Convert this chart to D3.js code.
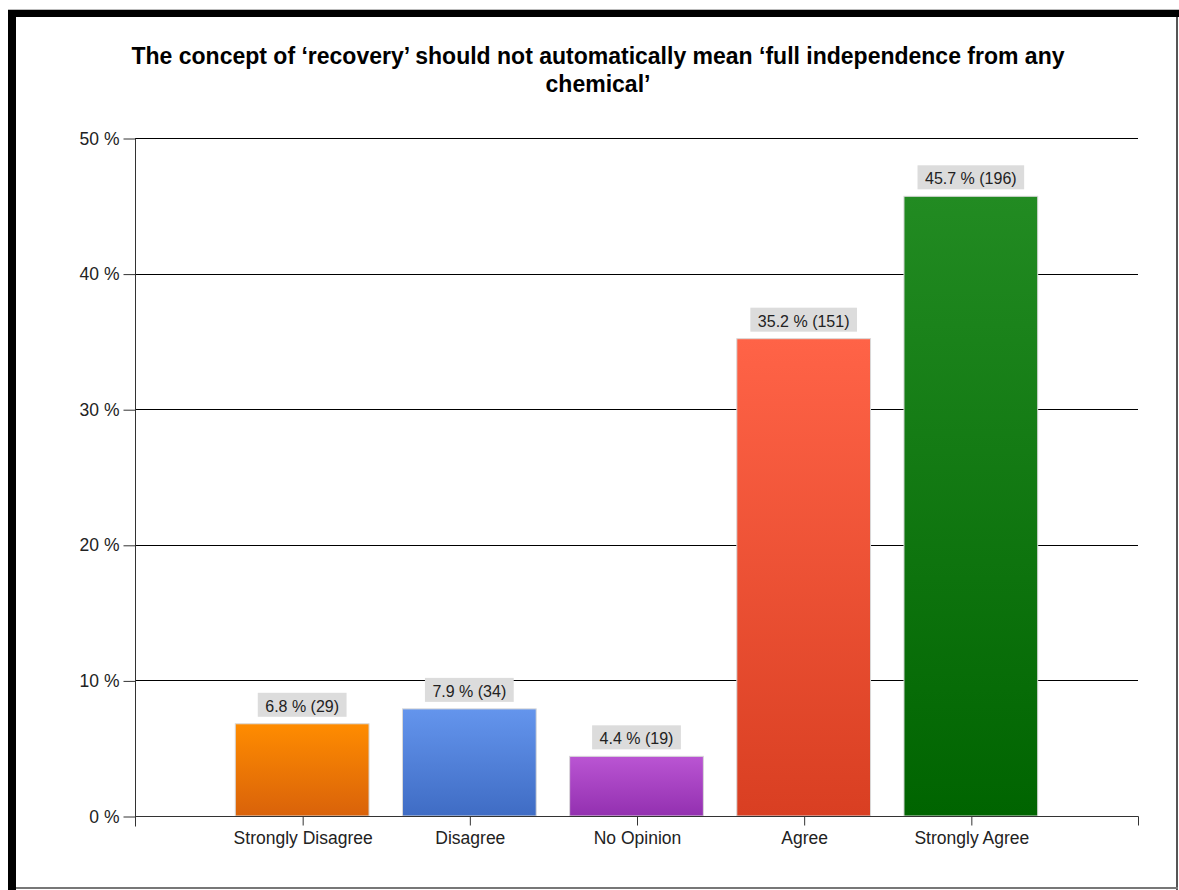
<!DOCTYPE html>
<html>
<head>
<meta charset="utf-8">
<script src="https://cdn.jsdelivr.net/npm/d3@7"></script>
<style>
  html, body { margin: 0; padding: 0; background: #fff; }
  svg { display: block; font-family: "Liberation Sans", Arial, sans-serif; }
</style>
</head>
<body>
<div id="chart"></div>
<script>
// data
const categories = ["Strongly Disagree", "Disagree", "No Opinion", "Agree", "Strongly Agree"];
const percents = [6.8, 7.9, 4.4, 35.2, 45.7];
const counts = [29, 34, 19, 151, 196];
const yTicks = [0, 10, 20, 30, 40, 50];
const titleLines = ["The concept of \u2018recovery\u2019 should not automatically mean \u2018full independence from any", "chemical\u2019"];
const topColors = ["#ff8c00", "#6495ed", "#ba55d3", "#ff6347", "#228b22"];
const bottomColors = ["#d9620a", "#3f6cc4", "#9330b0", "#d93f22", "#006400"];

const width = 1179, height = 890;
const plotLeft = 135, plotRight = 1138, plotTop = 138, plotBottom = 816;

const svg = d3.select("#chart")
    .append("svg")
    .attr("width", width)
    .attr("height", height);

// frame
svg.append("rect").attr("x", 8).attr("y", 9).attr("width", 1171).attr("height", 1).attr("fill", "#bbb");
svg.append("rect").attr("x", 8).attr("y", 10).attr("width", 1171).attr("height", 7).attr("fill", "#000");
svg.append("rect").attr("x", 8).attr("y", 10).attr("width", 8).attr("height", 880).attr("fill", "#000");
svg.append("rect").attr("x", 1176).attr("y", 17).attr("width", 2).attr("height", 873).attr("fill", "#555");
svg.append("rect").attr("x", 16).attr("y", 887).attr("width", 1162).attr("height", 2).attr("fill", "#777");

// gradients
const defs = svg.append("defs");
categories.forEach((c, i) => {
    const g = defs.append("linearGradient")
        .attr("id", "grad" + i)
        .attr("x1", 0).attr("y1", 0).attr("x2", 0).attr("y2", 1);
    g.append("stop").attr("offset", "0%").attr("stop-color", topColors[i]);
    g.append("stop").attr("offset", "100%").attr("stop-color", bottomColors[i]);
});

// title
svg.append("text")
    .attr("text-anchor", "middle")
    .attr("font-weight", "bold")
    .attr("font-size", "23px")
    .attr("fill", "#000")
    .selectAll("tspan")
    .data(titleLines)
    .enter().append("tspan")
    .attr("x", 598)
    .attr("y", (d, i) => 64 + i * 28)
    .text(d => d);

// scales
const x = d3.scalePoint()
    .domain(categories)
    .range([plotLeft, plotRight])
    .padding(1);

const y = d3.scaleLinear()
    .domain([0, 50])
    .range([plotBottom, plotTop]);

const barWidth = x.step() * 0.8;

// gridlines
svg.append("g")
    .selectAll("line")
    .data(yTicks.filter(d => d > 0))
    .enter().append("line")
    .attr("x1", plotLeft)
    .attr("x2", plotRight)
    .attr("y1", d => Math.round(y(d)) + 0.5)
    .attr("y2", d => Math.round(y(d)) + 0.5)
    .attr("stroke", "#000")
    .attr("stroke-width", 1);

// y axis
const yAxis = svg.append("g")
    .attr("transform", `translate(${plotLeft + 0.5},0.5)`)
    .call(d3.axisLeft(y).tickValues(yTicks).tickSize(12).tickPadding(4).tickFormat(d => d + " %"));
yAxis.select(".domain").attr("stroke", "#333").attr("d", `M0,${plotTop}V${plotBottom + 10}`);
yAxis.selectAll(".tick line").attr("stroke", "#333");
yAxis.selectAll(".tick text")
    .attr("font-size", "17.5px")
    .attr("fill", "#222")
    .attr("font-family", "Liberation Sans, Arial, sans-serif");

// bars
svg.append("g")
    .selectAll("rect")
    .data(categories)
    .enter().append("rect")
    .attr("x", d => x(d) - barWidth / 2)
    .attr("y", (d, i) => y(percents[i]))
    .attr("width", barWidth)
    .attr("height", (d, i) => plotBottom - y(percents[i]))
    .attr("fill", (d, i) => "url(#grad" + i + ")")
    .attr("stroke", "#d8d8d8")
    .attr("stroke-width", 1);

// x axis
const xAxis = svg.append("g")
    .attr("transform", `translate(0.5,${plotBottom + 0.5})`)
    .call(d3.axisBottom(x).tickSize(9).tickPadding(6));
xAxis.select(".domain").attr("stroke", "#333").attr("d", `M${plotLeft},0H${plotRight}V9`);
xAxis.selectAll(".tick line").attr("stroke", "#333");
xAxis.selectAll(".tick text")
    .attr("font-size", "17.5px")
    .attr("fill", "#222")
    .attr("font-family", "Liberation Sans, Arial, sans-serif");

// value labels
const labels = svg.append("g")
    .selectAll("g")
    .data(categories)
    .enter().append("g")
    .attr("transform", (d, i) => `translate(${x(d)},${y(percents[i]) - 7})`);

labels.append("text")
    .attr("text-anchor", "middle")
    .attr("y", -5)
    .attr("font-size", "16px")
    .attr("fill", "#222")
    .text((d, i) => percents[i].toFixed(1) + " % (" + counts[i] + ")");

labels.each(function() {
    const t = d3.select(this).select("text");
    const w = t.node().getComputedTextLength();
    d3.select(this).insert("rect", "text")
        .attr("x", -w / 2 - 7.5)
        .attr("y", -24)
        .attr("width", w + 15)
        .attr("height", 24)
        .attr("fill", "#dcdcdc");
});
</script>
</body>
</html>
